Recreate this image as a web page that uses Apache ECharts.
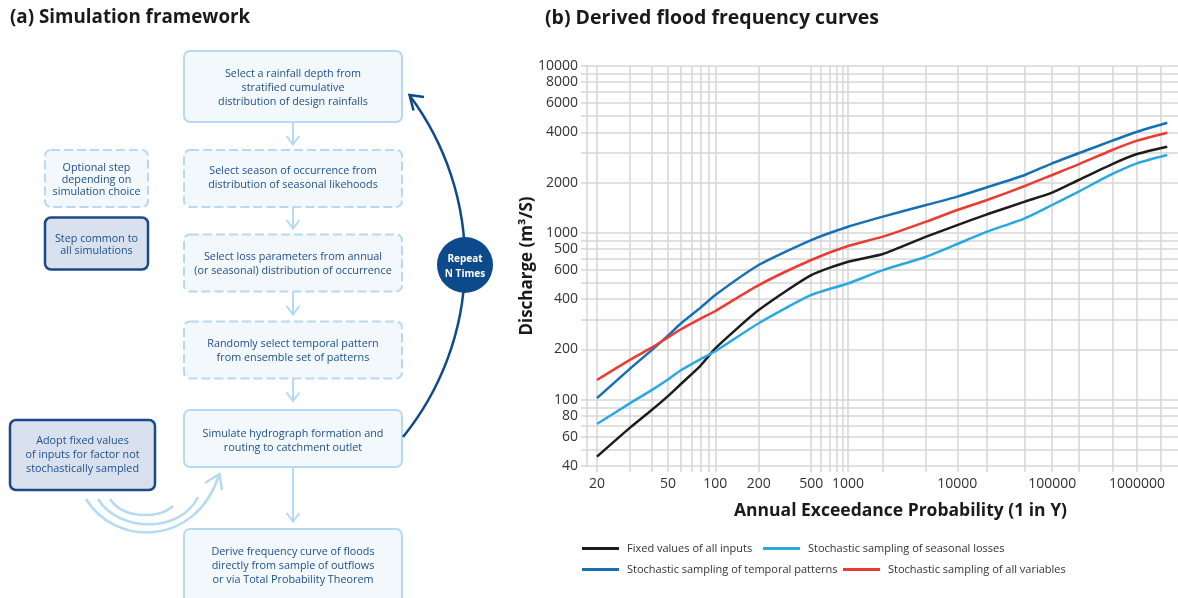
<!DOCTYPE html>
<html><head><meta charset="utf-8">
<script src="https://cdn.jsdelivr.net/npm/echarts@6/dist/echarts.min.js"></script>
<style>html,body{margin:0;padding:0;background:#fff}#c{width:1178px;height:598px}</style>
</head><body><div id="c"></div>
<script>
// ---------- data ----------
const returnPeriods = [20,30,40,50,60,80,100,200,500,1000,2000,5000,10000,20000,50000,100000,200000,500000,1000000,2400000];
const fixedInputs      = [45.5,67.7,86.6,105,124,160,203,344,558,671,746,948,1113,1291,1537,1741,2073,2584,2966,3281];
const seasonalLosses   = [71.4,95,114,132,150,175,195,287,424,497,598,719,857,1016,1222,1468,1766,2252,2610,2926];
const temporalPatterns = [102,153,198,242,286,356,424,641,905,1088,1250,1468,1648,1875,2222,2610,2997,3567,4036,4571];
const allVariables     = [131,173,205,236,264,306,340,486,687,833,948,1166,1370,1573,1908,2222,2575,3136,3567,3981];
const seriesNames = ['Fixed values of all inputs','Stochastic sampling of seasonal losses','Stochastic sampling of temporal patterns','Stochastic sampling of all variables'];
const xTickValues = [20,30,40,50,60,70,80,90,100,200,500,600,700,800,900,1000,2000,5000,10000,20000,50000,100000,200000,500000,1000000,2000000];
const xLabelValues = [20,50,100,200,500,1000,10000,100000,1000000];
const xRange = [17.8, 3300000];
const yTickValues = [40,50,60,70,80,90,100,200,300,400,500,600,700,800,900,1000,2000,3000,4000,5000,6000,7000,8000,9000,10000];
const yLabelValues = [40,60,80,100,200,400,600,800,1000,2000,4000,6000,8000,10000];
const yLabelTexts  = ['40','60','80','100','200','400','600','500','1000','2000','4000','6000','8000','10000'];

// ---------- probability scale (normal quantile of AEP = 1/Y) ----------
function probit(p){
  const a=[-3.969683028665376e+01,2.209460984245205e+02,-2.759285104469687e+02,1.383577518672690e+02,-3.066479806614716e+01,2.506628277459239e+00];
  const b=[-5.447609879822406e+01,1.615858368580409e+02,-1.556989798598866e+02,6.680131188771972e+01,-1.328068155288572e+01];
  const c=[-7.784894002430293e-03,-3.223964580411365e-01,-2.400758277161838e+00,-2.549732539343734e+00,4.374664141464968e+00,2.938163982698783e+00];
  const d=[7.784695709041462e-03,3.224671290700398e-01,2.445134137142996e+00,3.754408661907416e+00];
  const pl=0.02425, ph=1-pl; let q,r;
  if(p<pl){q=Math.sqrt(-2*Math.log(p));return (((((c[0]*q+c[1])*q+c[2])*q+c[3])*q+c[4])*q+c[5])/((((d[0]*q+d[1])*q+d[2])*q+d[3])*q+1);}
  if(p<=ph){q=p-0.5;r=q*q;return (((((a[0]*r+a[1])*r+a[2])*r+a[3])*r+a[4])*r+a[5])*q/(((((b[0]*r+b[1])*r+b[2])*r+b[3])*r+b[4])*r+1);}
  q=Math.sqrt(-2*Math.log(1-p));return -(((((c[0]*q+c[1])*q+c[2])*q+c[3])*q+c[4])*q+c[5])/((((d[0]*q+d[1])*q+d[2])*q+d[3])*q+1);
}
const zOf = y => -probit(1/y);
const xLabelMap = xLabelValues.map(v => [zOf(v), String(v)]);
function xLabelFmt(val){
  let best='', bd=1e9;
  xLabelMap.forEach(([z,t]) => { const dd=Math.abs(z-val); if(dd<bd){bd=dd;best=t;} });
  return best;
}
function yLabelFmt(val){
  let best='', bd=1e9;
  yLabelValues.forEach((v,i) => { const dd=Math.abs(v-val); if(dd<bd){bd=dd;best=yLabelTexts[i];} });
  return best;
}

// ---------- flowchart graphics ----------
const FONT = '"Open Sans", sans-serif';
const TXT = '#1d4f8b';
const LB = '#b6daf3', LBF = '#f3f8fd', DB = '#1b4a87', DBF = '#d9e1ef';
const els = [];
function box(x,y,w,h,kind){
  const dark = kind==='dark';
  els.push({type:'rect', shape:{x,y,width:w,height:h,r:6}, style:{fill: dark?DBF:LBF, stroke: dark?DB:LB, lineWidth: dark?2.5:2, lineDash: kind==='dash'?[9,4]:null}});
}
function txt(x,y,lines,opts){
  opts = opts||{};
  const lh = opts.lh||14;
  lines.forEach((s,i)=>{
    els.push({type:'text', z:10, style:{text:s, x:x, y:y+i*lh, font:(opts.weight||'normal')+' '+(opts.size||10.8)+'px '+FONT, fill:opts.color||TXT, align:opts.align||'center', verticalAlign:'middle'}});
  });
}
function downArrow(x,y1,y2){
  els.push({type:'line', shape:{x1:x,y1:y1,x2:x,y2:y2}, style:{stroke:LB, lineWidth:2}});
  els.push({type:'polyline', shape:{points:[[x-6.5,y2-8.5],[x,y2],[x+6.5,y2-8.5]]}, style:{stroke:LB, lineWidth:2, fill:'none'}});
}
// titles
txt(10,18,['(a) Simulation framework'],{size:18.8,weight:'bold',color:'#1a1a1a',align:'left'});
txt(545,18,['(b) Derived flood frequency curves'],{size:19.5,weight:'bold',color:'#1a1a1a',align:'left'});
// main column
const BX=184, BW=218, CX=293;
box(BX,51,BW,71,'solid');   txt(CX,73.5,['Select a rainfall depth from','stratified cumulative','distribution of design rainfalls']);
downArrow(CX,122,144.5);
box(BX,150,BW,57,'dash');   txt(CX,171,['Select season of occurrence from','distribution of seasonal likehoods']);
downArrow(CX,207,228.5);
box(BX,234.5,BW,57,'dash'); txt(CX,257,['Select loss parameters from annual','(or seasonal) distribution of occurrence']);
downArrow(CX,292,314.5);
box(BX,321.5,BW,57,'dash'); txt(CX,343.5,['Randomly select temporal pattern','from ensemble set of patterns']);
downArrow(CX,378.5,401);
box(BX,410,BW,57,'solid');  txt(CX,433.5,['Simulate hydrograph formation and','routing to catchment outlet']);
downArrow(CX,467,521.5);
box(BX,529,BW,75,'solid');  txt(CX,551.5,['Derive frequency curve of floods','directly from sample of outflows','or via Total Probability Theorem']);
// key boxes
box(45,150,103,57,'dash');  txt(96.5,168,['Optional step','depending on','simulation choice'],{lh:12});
box(45,217.5,103,52,'dark'); txt(96.5,238.5,['Step common to','all simulations'],{lh:12.5});
box(10,420,145,70,'dark');  txt(82.5,441,['Adopt fixed values','of inputs for factor not','stochastically sampled']);
// light curved arrows
els.push({type:'bezierCurve', shape:{x1:86,y1:499,cpx1:115,cpy1:547,cpx2:196,cpy2:547,x2:219,y2:475}, style:{stroke:LB,lineWidth:2.5,fill:'none'}});
els.push({type:'bezierCurve', shape:{x1:98,y1:499,cpx1:118,cpy1:532,cpx2:180,cpy2:534,x2:198,y2:497}, style:{stroke:LB,lineWidth:2.5,fill:'none'}});
els.push({type:'bezierCurve', shape:{x1:110,y1:499,cpx1:122,cpy1:518,cpx2:158,cpy2:520,x2:173,y2:506}, style:{stroke:LB,lineWidth:2.5,fill:'none'}});
els.push({type:'polyline', shape:{points:[[205,483],[219.5,474],[222,490]]}, style:{stroke:LB,lineWidth:2.5,fill:'none'}});
// repeat loop arc
const acx=187, acy=262, ar=278;
els.push({type:'arc', shape:{cx:acx,cy:acy,r:ar,startAngle:Math.atan2(96-acy,410-acx),endAngle:Math.atan2(437-acy,403-acx),clockwise:true}, style:{stroke:'#0e4a8a',lineWidth:2.5,fill:'none'}});
els.push({type:'polyline', shape:{points:[[424,97],[409.5,95],[413.5,110.5]]}, style:{stroke:'#0e4a8a',lineWidth:2.5,fill:'none'}});
els.push({type:'circle', z:5, shape:{cx:465,cy:265,r:28}, style:{fill:'#0d4a8b'}});
txt(465,259.5,['Repeat','N Times'],{size:10,weight:'bold',color:'#ffffff',lh:14.5});

// ---------- chart ----------
const colors = ['#1c1c1c','#2aa9e0','#1570b5','#ee3b30'];
const values = [fixedInputs, seasonalLosses, temporalPatterns, allVariables];
const series = seriesNames.map((n,i)=>({
  name:n, type:'line', showSymbol:false, smooth:0.2, color:colors[i],
  lineStyle:{width:2.5, color:colors[i]},
  data: returnPeriods.map((rp,j)=>[zOf(rp), values[i][j]])
}));
const legendPos = [[582,543],[763,543],[582,564],[843,564]];
const legends = seriesNames.map((n,i)=>({
  data:[n], left:legendPos[i][0], top:legendPos[i][1], padding:0, itemWidth:37, itemHeight:3, icon:'rect',
  textStyle:{fontSize:11, color:'#333', fontFamily:'Open Sans', padding:[0,0,0,3]}
}));
const gridColor = '#d6d6d6';
const option = {
  animation:false,
  textStyle:{fontFamily:'Open Sans'},
  graphic:{elements:els},
  legend: legends,
  grid:{left:587, top:66, right:0, height:400},
  xAxis:{
    type:'value', min:zOf(xRange[0]), max:zOf(xRange[1]),
    axisLine:{show:false},
    axisTick:{show:true, length:6, inside:false, customValues:xTickValues.map(zOf), lineStyle:{color:gridColor,width:1.5}},
    splitLine:{show:true, lineStyle:{color:gridColor,width:1.5}},
    axisLabel:{customValues:xLabelValues.map(zOf), formatter:xLabelFmt, fontSize:14, color:'#333', margin:11, fontFamily:'Open Sans'},
    name:'Annual Exceedance Probability (1 in Y)', nameLocation:'middle', nameGap:36, nameMoveOverlap:false,
    nameTextStyle:{fontSize:17.5, fontWeight:'bold', color:'#1a1a1a', fontFamily:'Open Sans', padding:[0,0,0,36]}
  },
  yAxis:{
    type:'log', logBase:10, min:40, max:10000,
    axisLine:{show:true, lineStyle:{color:gridColor,width:1.5}},
    axisTick:{show:true, length:6, customValues:yTickValues, lineStyle:{color:gridColor,width:1.5}},
    splitLine:{show:true, lineStyle:{color:gridColor,width:1.5}},
    minorTick:{show:false}, minorSplitLine:{show:false},
    axisLabel:{customValues:yLabelValues, formatter:yLabelFmt, fontSize:14, color:'#333', margin:9, fontFamily:'Open Sans'},
    name:'Discharge (m³/S)', nameLocation:'middle', nameGap:51, nameMoveOverlap:false,
    nameTextStyle:{fontSize:17, fontWeight:'bold', color:'#1a1a1a', fontFamily:'Open Sans'}
  },
  series: series
};
const chart = echarts.init(document.getElementById('c'), null, {renderer:'canvas'});
chart.setOption(option);
</script>
</body></html>
